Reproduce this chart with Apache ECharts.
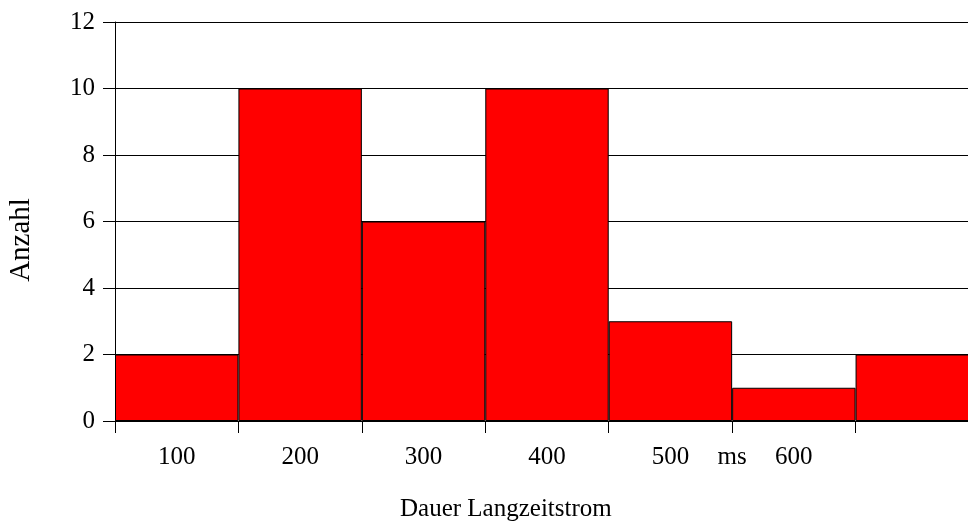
<!DOCTYPE html>
<html>
<head>
<meta charset="utf-8">
<script src="https://cdn.jsdelivr.net/npm/echarts@6/dist/echarts.min.js"></script>
<style>html,body{margin:0;padding:0;background:#fff}#c{width:968px;height:527px}</style>
</head>
<body>
<div id="c"></div>
<script>
const categories = ['100', '200', '300', '400', '500', '600', ''];
const counts = [2, 10, 6, 10, 3, 1, 2];
const boundaryLabels = ['', '', '', '', '', 'ms', '', ''];
const yTicks = [0, 2, 4, 6, 8, 10, 12];

const FONT = 'Liberation Serif';
const chart = echarts.init(document.getElementById('c'), null, {renderer: 'canvas'});
chart.setOption({
  animation: false,
  backgroundColor: '#fff',
  textStyle: {fontFamily: FONT},
  grid: {left: 115, top: 22, width: 864, height: 399, containLabel: false, outerBoundsMode: 'none'},
  xAxis: [{
    type: 'category',
    data: categories,
    position: 'bottom',
    boundaryGap: true,
    axisLine: {lineStyle: {color: '#000', width: 1}},
    axisTick: {show: true, length: 12, alignWithLabel: false, lineStyle: {color: '#000'}},
    axisLabel: {fontFamily: FONT, fontSize: 25, color: '#000', margin: 24, interval: 0},
    splitLine: {show: false}
  }, {
    type: 'category',
    data: boundaryLabels,
    position: 'bottom',
    boundaryGap: false,
    axisLine: {show: false},
    axisTick: {show: false},
    axisLabel: {fontFamily: FONT, fontSize: 25, color: '#000', margin: 24, interval: 0},
    splitLine: {show: false}
  }],
  yAxis: {
    type: 'value',
    min: yTicks[0],
    max: yTicks[yTicks.length - 1],
    interval: 2,
    name: 'Anzahl',
    nameLocation: 'middle',
    nameGap: 79,
    nameTextStyle: {fontFamily: FONT, fontSize: 29, color: '#000', padding: [0, 37, 0, 0]},
    axisLine: {show: true, lineStyle: {color: '#000', width: 1}},
    axisTick: {show: true, length: 12, lineStyle: {color: '#000'}},
    axisLabel: {fontFamily: FONT, fontSize: 25, color: '#000', margin: 20},
    splitLine: {show: true, lineStyle: {color: '#000', width: 1}}
  },
  graphic: [{
    type: 'text',
    left: 400,
    top: 497,
    style: {text: 'Dauer Langzeitstrom', font: '25px "Liberation Serif"', fill: '#000'}
  }],
  series: [{
    type: 'bar',
    xAxisIndex: 0,
    data: counts,
    barCategoryGap: '0%',
    itemStyle: {color: '#ff0000', borderColor: '#000', borderWidth: 1}
  }]
});
</script>
</body>
</html>
